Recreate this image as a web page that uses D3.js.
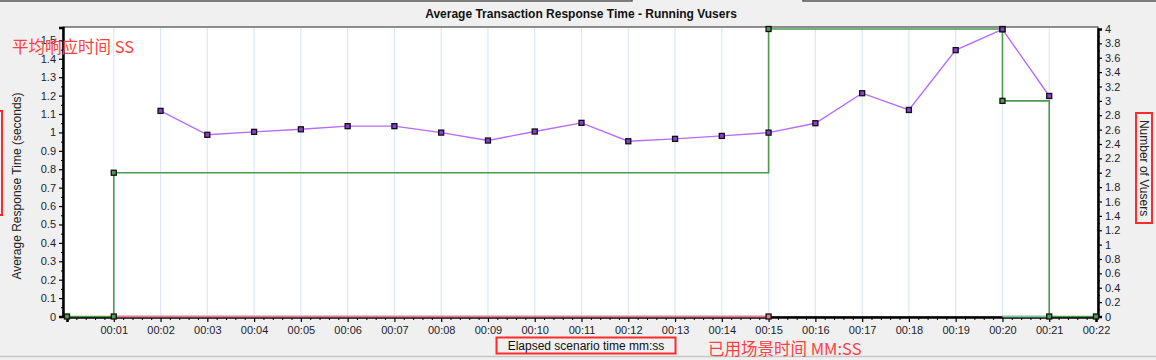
<!DOCTYPE html>
<html>
<head>
<meta charset="utf-8">
<script src="https://cdn.jsdelivr.net/npm/d3@7"></script>
<style>
  body { margin: 0; background: #f0f0f0; }
  svg { display: block; font-family: "Liberation Sans", Arial, sans-serif; }
</style>
</head>
<body>
<script>
// chart data
var respTimes = [2, 3, 4, 5, 6, 7, 8, 9, 10, 11, 12, 13, 14, 15, 16, 17, 18, 19, 20, 21];
var respValues = [1.117, 0.987, 1.003, 1.017, 1.034, 1.034, 0.999, 0.956, 1.005, 1.052,
                  0.952, 0.965, 0.981, 0.999, 1.05, 1.213, 1.122, 1.447, 1.56, 1.198];

var vuserTimes = [0, 1, 1, 15, 15, 20, 20, 21, 21, 22];
var vuserValues = [0, 0, 2, 2, 4, 4, 3, 3, 0, 0];
var vuserMarkTimes = [0, 1, 1, 15, 20, 20, 21, 22];
var vuserMarkValues = [0, 0, 2, 4, 4, 3, 0, 0];

var pinkTimes = [1, 15];
var pinkValues = [0, 0];
var doneTimes = [20, 21];
var doneValues = [0, 0];

var xTickLabels = ["00:01", "00:02", "00:03", "00:04", "00:05", "00:06", "00:07", "00:08",
  "00:09", "00:10", "00:11", "00:12", "00:13", "00:14", "00:15", "00:16", "00:17", "00:18",
  "00:19", "00:20", "00:21", "00:22"];

var width = 1156, height = 360;
var plot = {left: 63, right: 1098, top: 27, bottom: 317};

var x = d3.scaleLinear().domain([0, 22]).range([67, 1096]);
var yL = d3.scaleLinear().domain([0, 1.57]).range([316.5, 27.5]);
var yR = d3.scaleLinear().domain([0, 4]).range([316.5, 29]);

var svg = d3.select("body").append("svg")
    .attr("width", width)
    .attr("height", height);

// window frame bits
svg.append("rect").attr("width", width).attr("height", height).attr("fill", "#f0f0f0");
svg.append("path").attr("d", "M0,1H632V0M803,0V1H1156")
    .attr("fill", "none").attr("stroke", "#555").attr("stroke-width", 1.5);
svg.append("line").attr("x1", 0).attr("x2", width).attr("y1", 356.5).attr("y2", 356.5)
    .attr("stroke", "#c8c8c8").attr("stroke-width", 1.5);

// title
svg.append("text")
    .attr("x", 581).attr("y", 18)
    .attr("text-anchor", "middle")
    .attr("font-size", 12).attr("font-weight", "bold")
    .attr("fill", "#111")
    .text("Average Transaction Response Time - Running Vusers");

// plot area
svg.append("rect")
    .attr("x", plot.left).attr("y", plot.top)
    .attr("width", plot.right - plot.left).attr("height", plot.bottom - plot.top)
    .attr("fill", "#fff").attr("stroke", "#222").attr("stroke-width", 1);

// vertical grid
svg.append("g").selectAll("line")
    .data(d3.range(1, 22))
  .enter().append("line")
    .attr("x1", d => x(d)).attr("x2", d => x(d))
    .attr("y1", plot.top + 1).attr("y2", plot.bottom - 1)
    .attr("stroke", "#dce7f5").attr("stroke-width", 1.2);

// axes
var xAxis = d3.axisBottom(x)
    .tickValues(d3.range(0, 23))
    .tickSize(5).tickPadding(4)
    .tickFormat(d => d === 0 ? "" : xTickLabels[d - 1]);
var xMinor = d3.axisBottom(x)
    .tickValues(d3.range(0, 22.01, 0.2).filter(d => Math.abs(d - Math.round(d)) > 0.01))
    .tickSize(3).tickFormat("");

var gx = svg.append("g").attr("transform", "translate(0," + plot.bottom + ")").call(xAxis);
svg.append("g").attr("transform", "translate(0," + plot.bottom + ")").call(xMinor)
    .select(".domain").remove();

var yLAxis = d3.axisLeft(yL)
    .tickValues(d3.range(0, 15.5).map(d => d / 10))
    .tickSize(4).tickPadding(3)
    .tickFormat(d3.format("~g"));
var yLMinor = d3.axisLeft(yL)
    .tickValues(d3.range(0, 31).map(d => d / 20).filter((d, i) => i % 2 === 1))
    .tickSize(2).tickFormat("");
var gyl = svg.append("g").attr("transform", "translate(" + plot.left + ",0)").call(yLAxis);
svg.append("g").attr("transform", "translate(" + plot.left + ",0)").call(yLMinor)
    .select(".domain").remove();

var yRAxis = d3.axisRight(yR)
    .tickValues(d3.range(0, 21).map(d => d / 5))
    .tickSize(4).tickPadding(3)
    .tickFormat(d3.format("~g"));
var yRMinor = d3.axisRight(yR)
    .tickValues(d3.range(0, 40).map(d => d / 10).filter((d, i) => i % 2 === 1))
    .tickSize(2).tickFormat("");
var gyr = svg.append("g").attr("transform", "translate(" + plot.right + ",0)").call(yRAxis);
svg.append("g").attr("transform", "translate(" + plot.right + ",0)").call(yRMinor)
    .select(".domain").remove();

[gx, gyl, gyr].forEach(function(g) {
  g.select(".domain").attr("stroke", "#000").attr("stroke-width", 2.5);
  g.selectAll(".tick line").attr("stroke", "#000").attr("stroke-width", 1.2);
  g.selectAll(".tick text").attr("fill", "#1c1c2e")
      .attr("font-family", "'Liberation Sans', Arial, sans-serif").attr("font-size", 11);
});
svg.selectAll(".tick line").attr("stroke", "#000");

// line generators
var lineL = d3.line().x(d => x(d[0])).y(d => yL(d[1]));
var lineR = d3.line().x(d => x(d[0])).y(d => yR(d[1]));

var pinkData = pinkTimes.map((t, i) => [t, pinkValues[i]]);
var doneData = doneTimes.map((t, i) => [t, doneValues[i]]);
var vuserData = vuserTimes.map((t, i) => [t, vuserValues[i]]);
var vuserMarks = vuserMarkTimes.map((t, i) => [t, vuserMarkValues[i]]);
var respData = respTimes.map((t, i) => [t, respValues[i]]);

svg.append("path").datum(pinkData).attr("d", lineL)
    .attr("fill", "none").attr("stroke", "#e77a90").attr("stroke-width", 2);
svg.append("path").datum(doneData).attr("d", lineR)
    .attr("fill", "none").attr("stroke", "#7fc79a").attr("stroke-width", 2);
svg.append("path").datum(vuserData).attr("d", lineR)
    .attr("fill", "none").attr("stroke", "#4e9a4e").attr("stroke-width", 1.6);
svg.append("path").datum(respData).attr("d", lineL)
    .attr("fill", "none").attr("stroke", "#b56cff").attr("stroke-width", 1.4);

function markers(data, yScale, fill) {
  svg.append("g").selectAll("rect")
      .data(data)
    .enter().append("rect")
      .attr("x", d => x(d[0]) - 2.5).attr("y", d => yScale(d[1]) - 2.5)
      .attr("width", 5).attr("height", 5)
      .attr("fill", fill).attr("stroke", "#111").attr("stroke-width", 1.3);
}
markers([pinkData[1]], yL, "#e77a90");
markers(vuserMarks, yR, "#4e9a4e");
markers(respData, yL, "#8a3fd0");

// axis titles
svg.append("text")
    .attr("transform", "translate(21,186) rotate(-90)")
    .attr("text-anchor", "middle").attr("font-size", 12).attr("fill", "#222")
    .text("Average Response Time (seconds)");
svg.append("text")
    .attr("transform", "translate(1140,168) rotate(90)")
    .attr("text-anchor", "middle").attr("font-size", 12).attr("fill", "#222")
    .text("Number of Vusers");
svg.append("text")
    .attr("x", 586).attr("y", 350)
    .attr("text-anchor", "middle").attr("font-size", 12).attr("fill", "#111")
    .text("Elapsed scenario time mm:ss");

// red annotations
var red = "#ff2a2a";
svg.append("rect").attr("x", 496.5).attr("y", 337.5).attr("width", 179).attr("height", 16)
    .attr("fill", "none").attr("stroke", red).attr("stroke-width", 2);
svg.append("rect").attr("x", 1136).attr("y", 113).attr("width", 16).attr("height", 110)
    .attr("fill", "none").attr("stroke", red).attr("stroke-width", 2);
svg.append("rect").attr("x", -10).attr("y", 111).attr("width", 12).attr("height", 104)
    .attr("fill", "none").attr("stroke", red).attr("stroke-width", 2);
svg.append("text")
    .attr("x", 12).attr("y", 53)
    .attr("font-size", 16.5).attr("fill", "#ff4040")
    .attr("font-family", "'Noto Sans CJK SC', 'Liberation Sans', sans-serif")
    .text("平均响应时间 SS");
svg.append("text")
    .attr("x", 708).attr("y", 355)
    .attr("font-size", 16.5).attr("fill", "#ff4040")
    .attr("font-family", "'Noto Sans CJK SC', 'Liberation Sans', sans-serif")
    .text("已用场景时间 MM:SS");
</script>
</body>
</html>
